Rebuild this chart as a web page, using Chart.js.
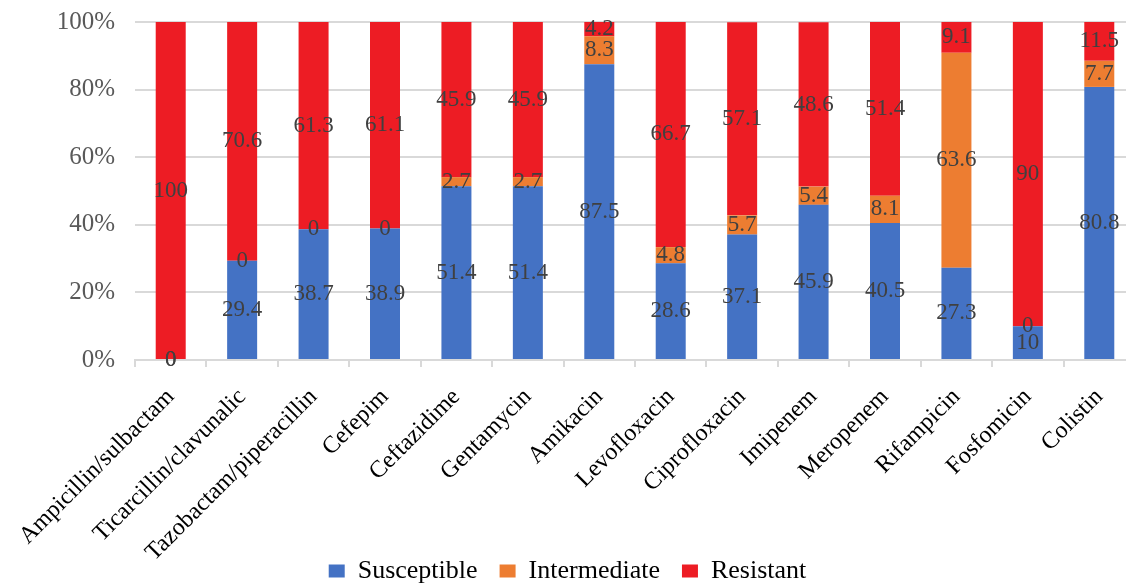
<!DOCTYPE html>
<html>
<head>
<meta charset="utf-8">
<script src="https://cdn.jsdelivr.net/npm/chart.js@4/dist/chart.umd.min.js"></script>
<style>
  html, body { margin: 0; padding: 0; background: #fff; overflow: hidden; }
  #wrap { width: 1126px; height: 584px; overflow: hidden; }
  canvas { display: block; }
</style>
</head>
<body>
<div id="wrap"><canvas id="chart" width="1136" height="584"></canvas></div>
<script>
// Antibiotic categories along the x axis
const categories = [
  'Ampicillin/sulbactam', 'Ticarcillin/clavunalic', 'Tazobactam/piperacillin',
  'Cefepim', 'Ceftazidime', 'Gentamycin', 'Amikacin', 'Levofloxacin',
  'Ciprofloxacin', 'Imipenem', 'Meropenem', 'Rifampicin', 'Fosfomicin', 'Colistin'
];

// Percent of isolates in each class
const susceptible  = [0, 29.4, 38.7, 38.9, 51.4, 51.4, 87.5, 28.6, 37.1, 45.9, 40.5, 27.3, 10, 80.8];
const intermediate = [0, 0, 0, 0, 2.7, 2.7, 8.3, 4.8, 5.7, 5.4, 8.1, 63.6, 0, 7.7];
const resistant    = [100, 70.6, 61.3, 61.1, 45.9, 45.9, 4.2, 66.7, 57.1, 48.6, 51.4, 9.1, 90, 11.5];

// Y axis tick values (percent)
const yTicks = [0, 20, 40, 60, 80, 100];

const SERIF = '"Liberation Serif", "Times New Roman", serif';
const GRID = '#d9d9d9';
const PLOT_BOTTOM = 360;

// Writes each segment's value at the middle of its bar segment
const segmentLabels = {
  id: 'segmentLabels',
  afterDatasetsDraw(chart) {
    const ctx = chart.ctx;
    ctx.save();
    ctx.font = '23px ' + SERIF;
    ctx.fillStyle = '#404040';
    ctx.textAlign = 'center';
    ctx.textBaseline = 'middle';
    chart.data.datasets.forEach((ds, di) => {
      const meta = chart.getDatasetMeta(di);
      meta.data.forEach((bar, i) => {
        const y = (bar.y + bar.base) / 2;
        ctx.fillText(String(ds.data[i]), bar.x, y);
      });
    });
    ctx.restore();
  }
};

// Lets the long rotated category names run down past the axis box,
// and drops the legend row close to the bottom edge
const layoutTweaks = {
  id: 'layoutTweaks',
  afterLayout(chart) {
    const x = chart.scales.x;
    x.bottom = chart.height;
    const lg = chart.legend;
    if (lg) { lg.top += 10; lg.bottom += 10; }
  }
};

new Chart(document.getElementById('chart'), {
  type: 'bar',
  data: {
    labels: categories,
    datasets: [
      { label: 'Susceptible',  data: susceptible,  backgroundColor: '#4472C4' },
      { label: 'Intermediate', data: intermediate, backgroundColor: '#ED7D31' },
      { label: 'Resistant',    data: resistant,    backgroundColor: '#ED1C24' }
    ]
  },
  options: {
    responsive: false,
    animation: false,
    devicePixelRatio: 1,
    datasets: { bar: { categoryPercentage: 1, barPercentage: 0.42 } },
    layout: { padding: { top: 22, left: 0, right: 1, bottom: 0 } },
    plugins: {
      legend: {
        position: 'bottom',
        labels: {
          boxWidth: 16,
          boxHeight: 13,
          padding: 22,
          color: '#000',
          font: { family: SERIF, size: 26 }
        }
      },
      tooltip: { enabled: false }
    },
    scales: {
      x: {
        stacked: true,
        grid: {
          offset: true,
          drawOnChartArea: false,
          drawTicks: true,
          tickLength: 7,
          color: GRID,
          lineWidth: 2
        },
        border: { display: true, color: GRID, width: 2 },
        ticks: {
          autoSkip: false,
          minRotation: 45,
          maxRotation: 45,
          padding: 16,
          color: '#000',
          font: { family: SERIF, size: 24 }
        },
        afterFit(scale) {
          const legendH = scale.chart.legend ? scale.chart.legend.height : 0;
          scale.height = scale.chart.height - legendH - PLOT_BOTTOM;
        }
      },
      y: {
        stacked: true,
        min: 0,
        max: 100,
        afterBuildTicks(scale) {
          scale.ticks = yTicks.map(v => ({ value: v }));
        },
        grid: { color: GRID, lineWidth: 2, drawTicks: false },
        border: { display: false },
        ticks: {
          padding: 20,
          color: '#595959',
          font: { family: SERIF, size: 25 },
          callback: v => v + '%'
        },
        afterFit(scale) {
          scale.width = 135;
          scale.paddingTop = 0;
          scale.paddingBottom = 0;
        }
      }
    }
  },
  plugins: [segmentLabels, layoutTweaks]
});
</script>
</body>
</html>
